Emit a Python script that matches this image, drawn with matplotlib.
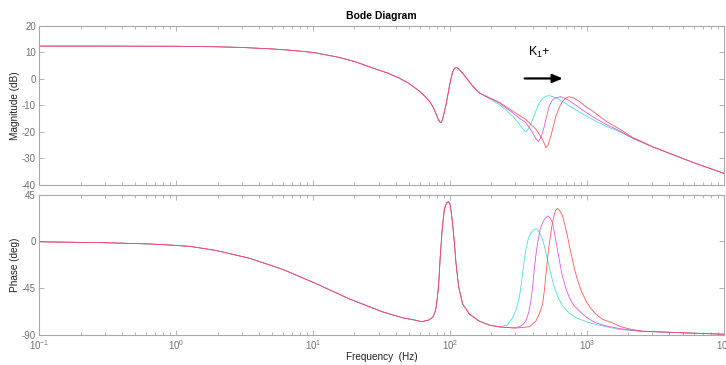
import matplotlib
matplotlib.use("Agg")
import matplotlib.pyplot as plt
from matplotlib.ticker import LogLocator, FixedLocator, NullFormatter

plt.rcParams['font.family'] = ['Liberation Sans', 'DejaVu Sans']
plt.rcParams['axes.unicode_minus'] = False
plt.rcParams['mathtext.default'] = 'regular'

# ---- magnitude, part shared by all three K1 values (Hz, dB) ----
freq_mag_common = [0.1, 0.3, 1, 2, 3, 5, 7, 10, 15, 20, 25.7, 30, 35, 42.6, 50,
                   59.6, 65, 70.5, 75, 78.9, 82, 84, 85.8, 87.5, 90, 93.3, 96,
                   98.6, 101.5, 104.3, 107.5, 111.5, 116, 123.3, 133, 146, 163]
mag_common = [12.4, 12.4, 12.35, 12.15, 11.9, 11.35, 10.8, 10.0, 8.3, 6.6, 4.6, 3.4,
              2.2, 0.3, -1.7, -4.6, -6.4, -8.4, -10.6, -13.2, -15.3, -16.2, -16.5,
              -15.6, -13.2, -9.6, -6.2, -2.8, 0.2, 2.7, 4.0, 4.35, 3.7, 2.2, 0.0,
              -2.7, -5.25]

# ---- magnitude above 163 Hz for each K1 ----
freq_mag_k1a = [190, 228, 260, 286, 320, 340, 357, 375, 400, 425, 447, 475, 501, 535,
                580, 627, 700, 783, 900, 1037, 1200, 1372, 1714, 2143, 3000, 5875, 10000]
mag_k1a = [-7.2, -9.6, -12.0, -14.0, -17.1, -19.0, -20.0, -18.6, -15.3, -11.8, -9.0,
           -7.3, -6.5, -6.3, -6.9, -7.8, -9.3, -10.9, -12.8, -14.6, -16.3, -17.8,
           -19.8, -22.3, -25.6, -31.4, -35.6]

freq_mag_k1b = [190, 228, 286, 320, 357, 400, 420, 442, 465, 487, 510, 528, 560, 592,
                644, 700, 783, 900, 1037, 1200, 1372, 1714, 2143, 3000, 5875, 10000]
mag_k1b = [-7.0, -9.0, -12.75, -14.8, -16.5, -20.2, -22.3, -23.6, -21.5, -17.8, -13.5,
           -10.3, -7.8, -7.1, -6.7, -7.4, -9.0, -11.3, -13.4, -15.4, -17.1, -19.5,
           -22.3, -25.6, -31.4, -35.6]

freq_mag_k1c = [190, 228, 286, 357, 424, 473, 501, 520, 544, 570, 592, 630, 662, 700,
                741, 800, 876, 980, 1096, 1372, 1714, 2143, 3000, 5875, 10000]
mag_k1c = [-6.9, -8.8, -12.1, -15.3, -19.0, -22.8, -25.9, -24.8, -21.5, -17.5, -14.0,
           -10.5, -8.4, -7.2, -6.7, -7.2, -8.4, -10.5, -12.1, -15.9, -18.8, -22.0,
           -25.5, -31.4, -35.6]

# ---- phase, part shared by all three K1 values (Hz, deg) ----
freq_ph_common = [0.1, 0.3, 0.64, 1, 1.27, 1.96, 3.43, 6, 10.5, 18.4, 32.2, 45, 56.4,
                  62, 70, 74.5, 77, 78.9, 80.5, 82.4, 84.6, 87.3, 90.7, 94, 97.1, 99.5,
                  101.6, 104.3, 107.4, 110.5, 115.4, 123.3, 138.5, 163]
phase_common = [-0.4, -1.3, -2.5, -3.9, -4.9, -8.8, -16.3, -27, -40.7, -55.4, -67.8,
                -73.5, -75.9, -77.3, -75.5, -73, -69, -63.6, -55, -41, -15, 11, 31,
                37, 38.2, 36, 29, 16, -2, -22, -44, -60.3, -70, -76.6]

# ---- phase above 163 Hz for each K1 ----
freq_ph_k1a = [193, 230, 260, 286, 305, 320, 330, 338, 347, 357, 372, 389, 410, 430,
               450, 473, 495, 514, 545, 576, 620, 662, 740, 828, 1000, 1158, 1714,
               2500, 5875, 10000]
phase_k1a = [-80.5, -82, -80.5, -73.4, -65, -53.8, -42, -31, -19, -8.1, 2.5, 8.2,
             11.5, 12.1, 8.5, 1.7, -8, -17.9, -32, -44, -55, -62, -69, -73.4, -77.5,
             -79.8, -84.7, -86.5, -88.2, -89.2]

freq_ph_k1b = [193, 230, 290, 320, 340, 357, 375, 389, 400, 411, 423, 435, 455, 473,
               495, 520, 540, 559, 580, 608, 635, 662, 700, 741, 800, 876, 1000, 1158,
               1400, 1714, 2000, 2500, 5875, 10000]
phase_k1b = [-80.5, -82.3, -83.2, -82, -80, -76.6, -68, -57, -44, -27.7, -13, -1.6, 12,
             18, 22.5, 24.5, 22, 18, 7, -8.1, -22, -34.2, -45, -53.8, -61.5, -66.8,
             -73.5, -78.3, -81.5, -83.7, -85, -86.5, -88.2, -89.2]

freq_ph_k1c = [193, 230, 300, 380, 423, 450, 473, 488, 501, 512, 523, 538, 553, 576,
               590, 608, 630, 662, 690, 719, 750, 783, 815, 853, 910, 980, 1060, 1158,
               1300, 1531, 1714, 2000, 2500, 5875, 10000]
phase_k1c = [-80.5, -82.3, -83.4, -82, -76.6, -69, -60.3, -47, -31, -19, -8.1, 4, 14.7,
             26, 30, 31.7, 29.5, 24.5, 15, 4.9, -7, -17.9, -28, -37.5, -48, -57, -64,
             -70, -75, -78.3, -81.5, -84, -86.2, -88.2, -89.3]

curves = [
    (freq_mag_k1a, mag_k1a, freq_ph_k1a, phase_k1a, '#3cdcdc'),
    (freq_mag_k1b, mag_k1b, freq_ph_k1b, phase_k1b, '#dc48e8'),
    (freq_mag_k1c, mag_k1c, freq_ph_k1c, phase_k1c, '#ff4a4a'),
]

axis_gray = '#a8a8a8'
label_gray = '#707070'

fig = plt.figure(figsize=(7.26, 3.65), dpi=100)
ax_mag = fig.add_axes([0.0544, 0.4932, 0.9428, 0.4356])
ax_ph = fig.add_axes([0.0544, 0.0822, 0.9428, 0.3848])

for fm, m, fp, p, c in curves:
    ax_mag.plot(freq_mag_common + fm, mag_common + m, color=c, lw=0.55)
    ax_ph.plot(freq_ph_common + fp, phase_common + p, color=c, lw=0.55)

for ax in (ax_mag, ax_ph):
    ax.set_xscale('log')
    ax.set_xlim(0.1, 1e4)
    ax.xaxis.set_major_locator(LogLocator(base=10, numticks=10))
    ax.xaxis.set_minor_locator(LogLocator(base=10, subs=range(2, 10), numticks=100))
    ax.xaxis.set_minor_formatter(NullFormatter())
    ax.tick_params(which='both', direction='in', top=True, right=True,
                   colors=axis_gray, labelcolor=label_gray, labelsize=7, pad=2.5)
    ax.tick_params(which='major', length=3.5, width=0.6)
    ax.tick_params(which='minor', length=2.0, width=0.6)
    for s in ax.spines.values():
        s.set_color(axis_gray)
        s.set_linewidth(0.8)

ax_mag.set_ylim(-40, 20)
ax_mag.yaxis.set_major_locator(FixedLocator([-40, -30, -20, -10, 0, 10, 20]))
ax_mag.tick_params(labelbottom=False)
ax_mag.set_ylabel('Magnitude (dB)', fontsize=7.2, labelpad=1.5, color='#202020')
ax_mag.set_title('Bode Diagram', fontsize=7.5, fontweight='bold', pad=5)

ax_ph.set_ylim(-90, 45)
ax_ph.yaxis.set_major_locator(FixedLocator([-90, -45, 0, 45]))
ax_ph.set_ylabel('Phase (deg)', fontsize=7.2, labelpad=1.5, color='#202020')
ax_ph.set_xlabel('Frequency  (Hz)', fontsize=7.2, labelpad=0, color='#202020')

# K1 increasing: resonance moves to higher frequency
ax_mag.annotate('', xy=(665, 0.2), xytext=(350, 0.2),
                arrowprops=dict(arrowstyle='-|>,head_length=0.6,head_width=0.25',
                                color='black', lw=1.6, shrinkA=0, shrinkB=0))
ax_mag.text(372, 10.0, 'K$_1$+', fontsize=9, ha='left', va='center', color='black')

fig.savefig('out.png', dpi=100)
